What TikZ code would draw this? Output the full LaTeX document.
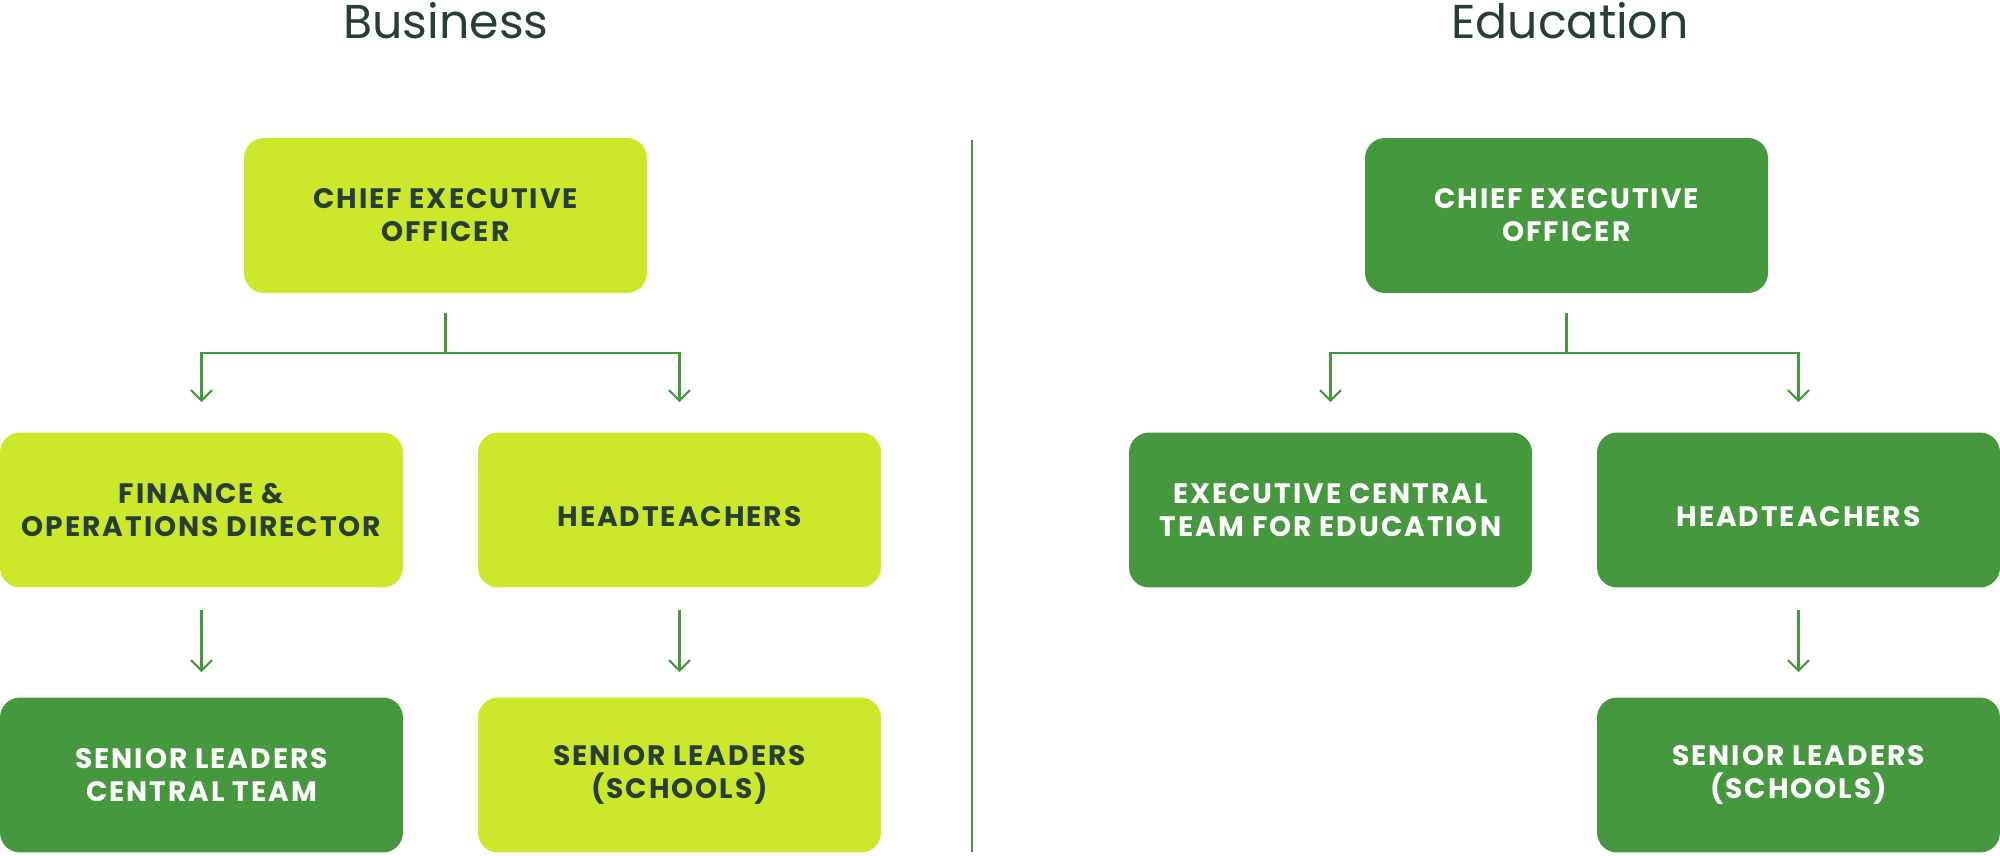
\documentclass[tikz,border=0pt]{standalone}
\usepackage{fontspec}
\setmainfont{Poppins}
\usetikzlibrary{arrows.meta}

\definecolor{limefill}{HTML}{CDE82A}
\definecolor{greenfill}{HTML}{45983E}
\definecolor{darktext}{HTML}{263F33}

\tikzset{
  box/.style={rounded corners=0.4cm, minimum width=8.06cm, minimum height=3.1cm,
    align=center, font=\fontsize{16}{18.7}\selectfont\bfseries\addfontfeature{LetterSpace=7}},
  lightbox/.style={box, fill=limefill, text=darktext},
  darkbox/.style={box, fill=greenfill, text=white},
  conn/.style={draw=greenfill, line width=1.2pt, -{Straight Barb[length=6pt,width=12pt]}},
  heading/.style={font=\fontsize{27}{30}\selectfont, text=darktext, anchor=base}
}
% one-line labels sit a little low in their boxes
\newcommand{\oneline}[1]{\raisebox{-4pt}[\height][\depth]{#1}}

\begin{document}
\begin{tikzpicture}[x=0.02cm, y=0.02cm]
  \useasboundingbox (0,0) rectangle (2000,-855);

  % Headings
  \node[heading] (bizTitle) at (446,-39) {Business};
  \node[heading] (eduTitle) at (1570,-39) {Education};

  % Divider between the two charts
  \draw[greenfill, line width=1.2pt] (972,-140) -- (972,-852);

  % Business chart
  \node[lightbox] (ceoBiz) at (445.5,-215.5) {CHIEF EXECUTIVE\\OFFICER};
  \node[lightbox] (finBiz) at (201.5,-510) {FINANCE \&\\OPERATIONS DIRECTOR};
  \node[lightbox] (headBiz) at (679.5,-510) {\oneline{HEADTEACHERS}};
  \node[darkbox] (slCentral) at (201.5,-775) {SENIOR LEADERS\\CENTRAL TEAM};
  \node[lightbox] (slBizSchools) at (679.5,-775) {SENIOR LEADERS\\(SCHOOLS)};

  \draw[conn, shorten <=0.4cm, shorten >=0.6cm] (ceoBiz.south) -- ++(0,-60) -| (finBiz.north);
  \draw[conn, shorten <=0.4cm, shorten >=0.6cm] (ceoBiz.south) -- ++(0,-60) -| (headBiz.north);
  \draw[conn, shorten <=0.44cm, shorten >=0.5cm] (finBiz.south) -- (slCentral.north);
  \draw[conn, shorten <=0.44cm, shorten >=0.5cm] (headBiz.south) -- (slBizSchools.north);

  % Education chart
  \node[darkbox] (ceoEdu) at (1566.5,-215.5) {CHIEF EXECUTIVE\\OFFICER};
  \node[darkbox] (ectEdu) at (1330.5,-510) {EXECUTIVE CENTRAL\\TEAM FOR EDUCATION};
  \node[darkbox] (headEdu) at (1798.5,-510) {\oneline{HEADTEACHERS}};
  \node[darkbox] (slEduSchools) at (1798.5,-775) {SENIOR LEADERS\\(SCHOOLS)};

  \draw[conn, shorten <=0.4cm, shorten >=0.6cm] (ceoEdu.south) -- ++(0,-60) -| (ectEdu.north);
  \draw[conn, shorten <=0.4cm, shorten >=0.6cm] (ceoEdu.south) -- ++(0,-60) -| (headEdu.north);
  \draw[conn, shorten <=0.44cm, shorten >=0.5cm] (headEdu.south) -- (slEduSchools.north);
\end{tikzpicture}
\end{document}
